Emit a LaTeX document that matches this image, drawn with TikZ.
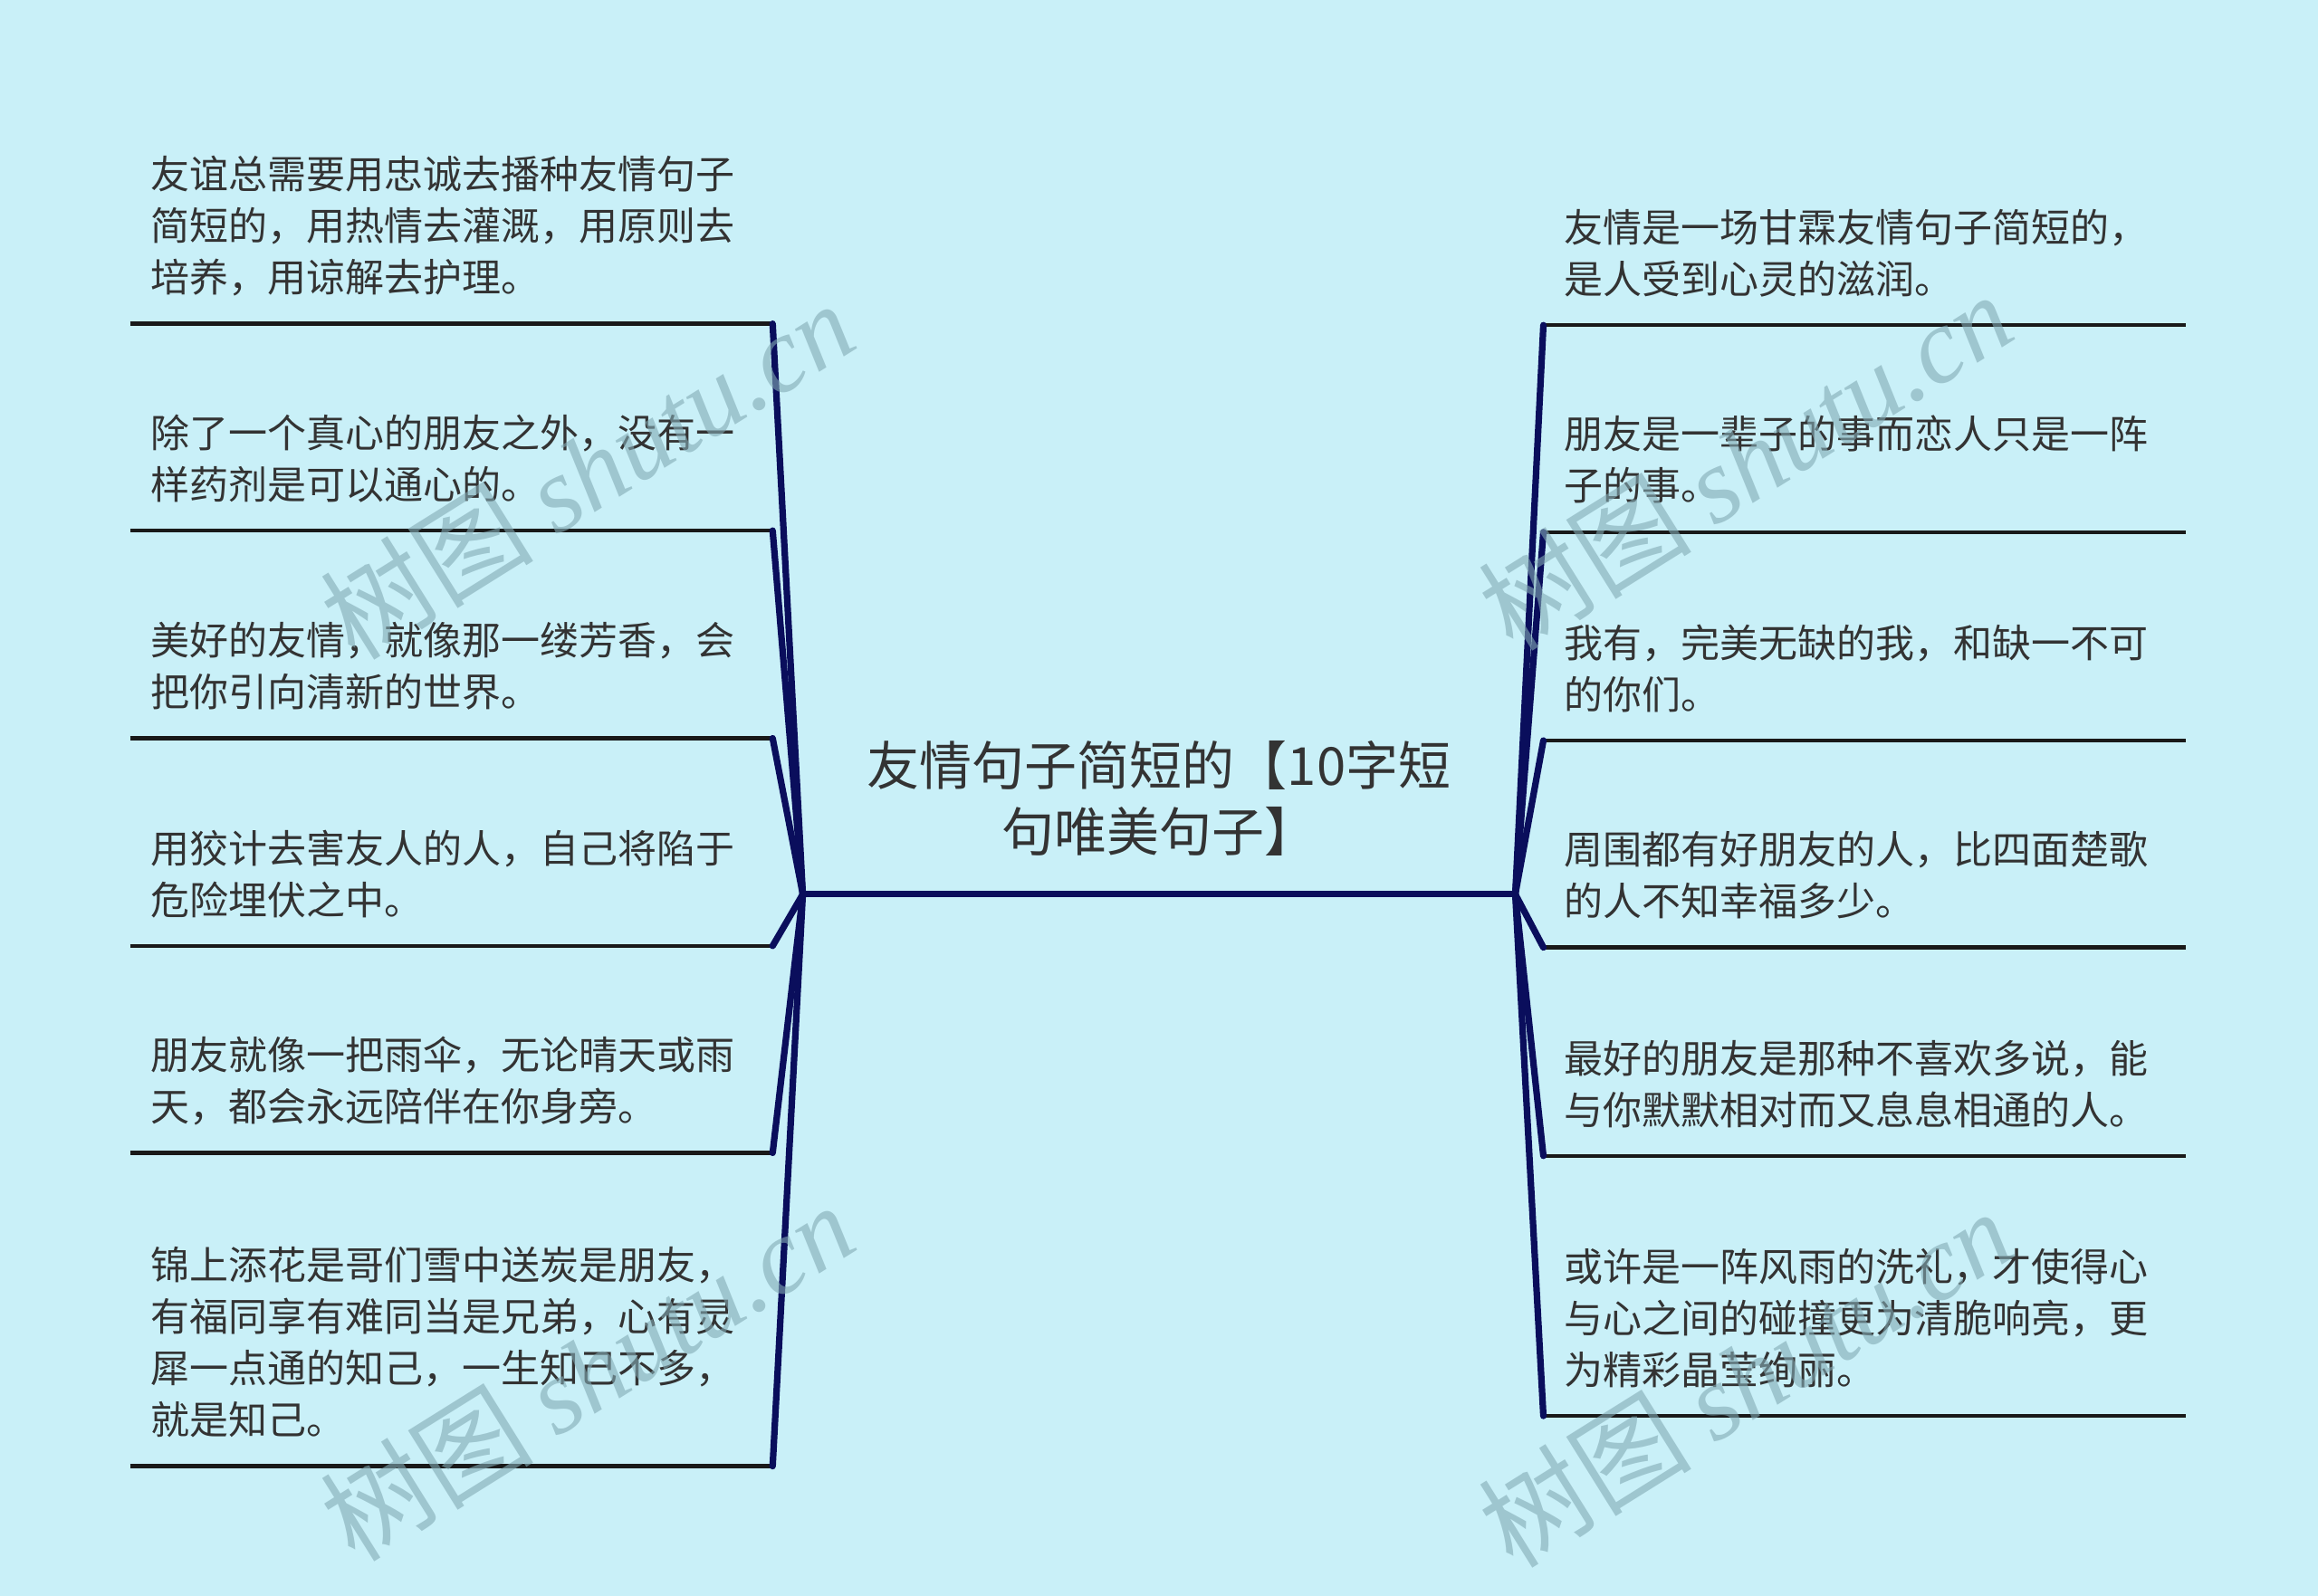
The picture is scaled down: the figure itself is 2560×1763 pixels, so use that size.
\documentclass[tikz,border=0pt]{standalone}
\usepackage{fontspec}
\setmainfont{Noto Sans CJK SC}
\newfontfamily\wmlatin{Liberation Serif}
\definecolor{bgcol}{RGB}{201,240,248}
\definecolor{navy}{RGB}{10,14,92}
\definecolor{txtcol}{RGB}{51,51,51}
\definecolor{wmcol}{RGB}{130,170,180}
\tikzset{
  leaf/.style={anchor=south west, text width=166pt, inner xsep=5.5pt,
    inner ysep=5.5pt, align=left, text=txtcol,
    execute at end node={\rule[-3pt]{0pt}{0pt}},
    font=\fontsize{10.75pt}{14.25pt}\selectfont},
  uline/.style={draw=black!90, line width=1.1pt},
  branch/.style={draw=navy, line width=1.8pt, line cap=round},
  wmark/.style={text=wmcol, opacity=0.6, rotate=32, inner sep=0pt}
}
\begin{document}
\begin{tikzpicture}[x=0.25pt,y=-0.25pt,line join=round]
  \fill[bgcol] (0,0) rectangle (2560,1763);
  \useasboundingbox (0,0) rectangle (2560,1763);
  \coordinate (hubL) at (886.6,987.8);
  \coordinate (hubR) at (1673.5,987.8);
  % centre topic
  \node[text=txtcol, align=center, inner sep=0pt,
    font=\fontsize{14.5pt}{18.4pt}\selectfont] (root) at (1280,882)
    {友情句子简短的【10字短\\句唯美句子】};
  \draw[branch] (hubL) -- (hubR);
  % left side
  \node[leaf] (l1) at (143.7,357.6) {友谊总需要用忠诚去播种友情句子\\简短的，用热情去灌溉，用原则去\\培养，用谅解去护理。};
  \node[leaf] (l2) at (143.7,586.1) {除了一个真心的朋友之外，没有一\\样药剂是可以通心的。};
  \node[leaf] (l3) at (143.7,815.5) {美好的友情，就像那一缕芳香，会\\把你引向清新的世界。};
  \node[leaf] (l4) at (143.7,1044.9) {用狡计去害友人的人，自己将陷于\\危险埋伏之中。};
  \node[leaf] (l5) at (143.7,1273.5) {朋友就像一把雨伞，无论晴天或雨\\天，都会永远陪伴在你身旁。};
  \node[leaf] (l6) at (143.7,1619.6) {锦上添花是哥们雪中送炭是朋友，\\有福同享有难同当是兄弟，心有灵\\犀一点通的知己，一生知己不多，\\就是知己。};
  % right side
  \node[leaf] (r1) at (1704.5,359.2) {友情是一场甘霖友情句子简短的，\\是人受到心灵的滋润。};
  \node[leaf] (r2) at (1704.5,587.8) {朋友是一辈子的事而恋人只是一阵\\子的事。};
  \node[leaf] (r3) at (1704.5,818.0) {我有，完美无缺的我，和缺一不可\\的你们。};
  \node[leaf] (r4) at (1704.5,1046.6) {周围都有好朋友的人，比四面楚歌\\的人不知幸福多少。};
  \node[leaf] (r5) at (1704.5,1276.8) {最好的朋友是那种不喜欢多说，能\\与你默默相对而又息息相通的人。};
  \node[leaf] (r6) at (1704.5,1564.1) {或许是一阵风雨的洗礼，才使得心\\与心之间的碰撞更为清脆响亮，更\\为精彩晶莹绚丽。};
  \foreach \n in {l1,l2,l3,l4,l5,l6} {
    \draw[uline] (\n.south west) -- (\n.south east);
    \draw[branch] (hubL) -- (\n.south east);
  }
  \foreach \n in {r1,r2,r3,r4,r5,r6} {
    \draw[uline] (\n.south west) -- (\n.south east);
    \draw[branch] (hubR) -- (\n.south west);
  }
  % watermarks
  \foreach \p in {(648,519),(1927,509),(648,1515),(1927,1522)}
    \node[wmark, font=\fontsize{29.5pt}{29.5pt}\selectfont] at \p
      {树图 {\wmlatin\itshape shutu.cn}};
\end{tikzpicture}
\end{document}
